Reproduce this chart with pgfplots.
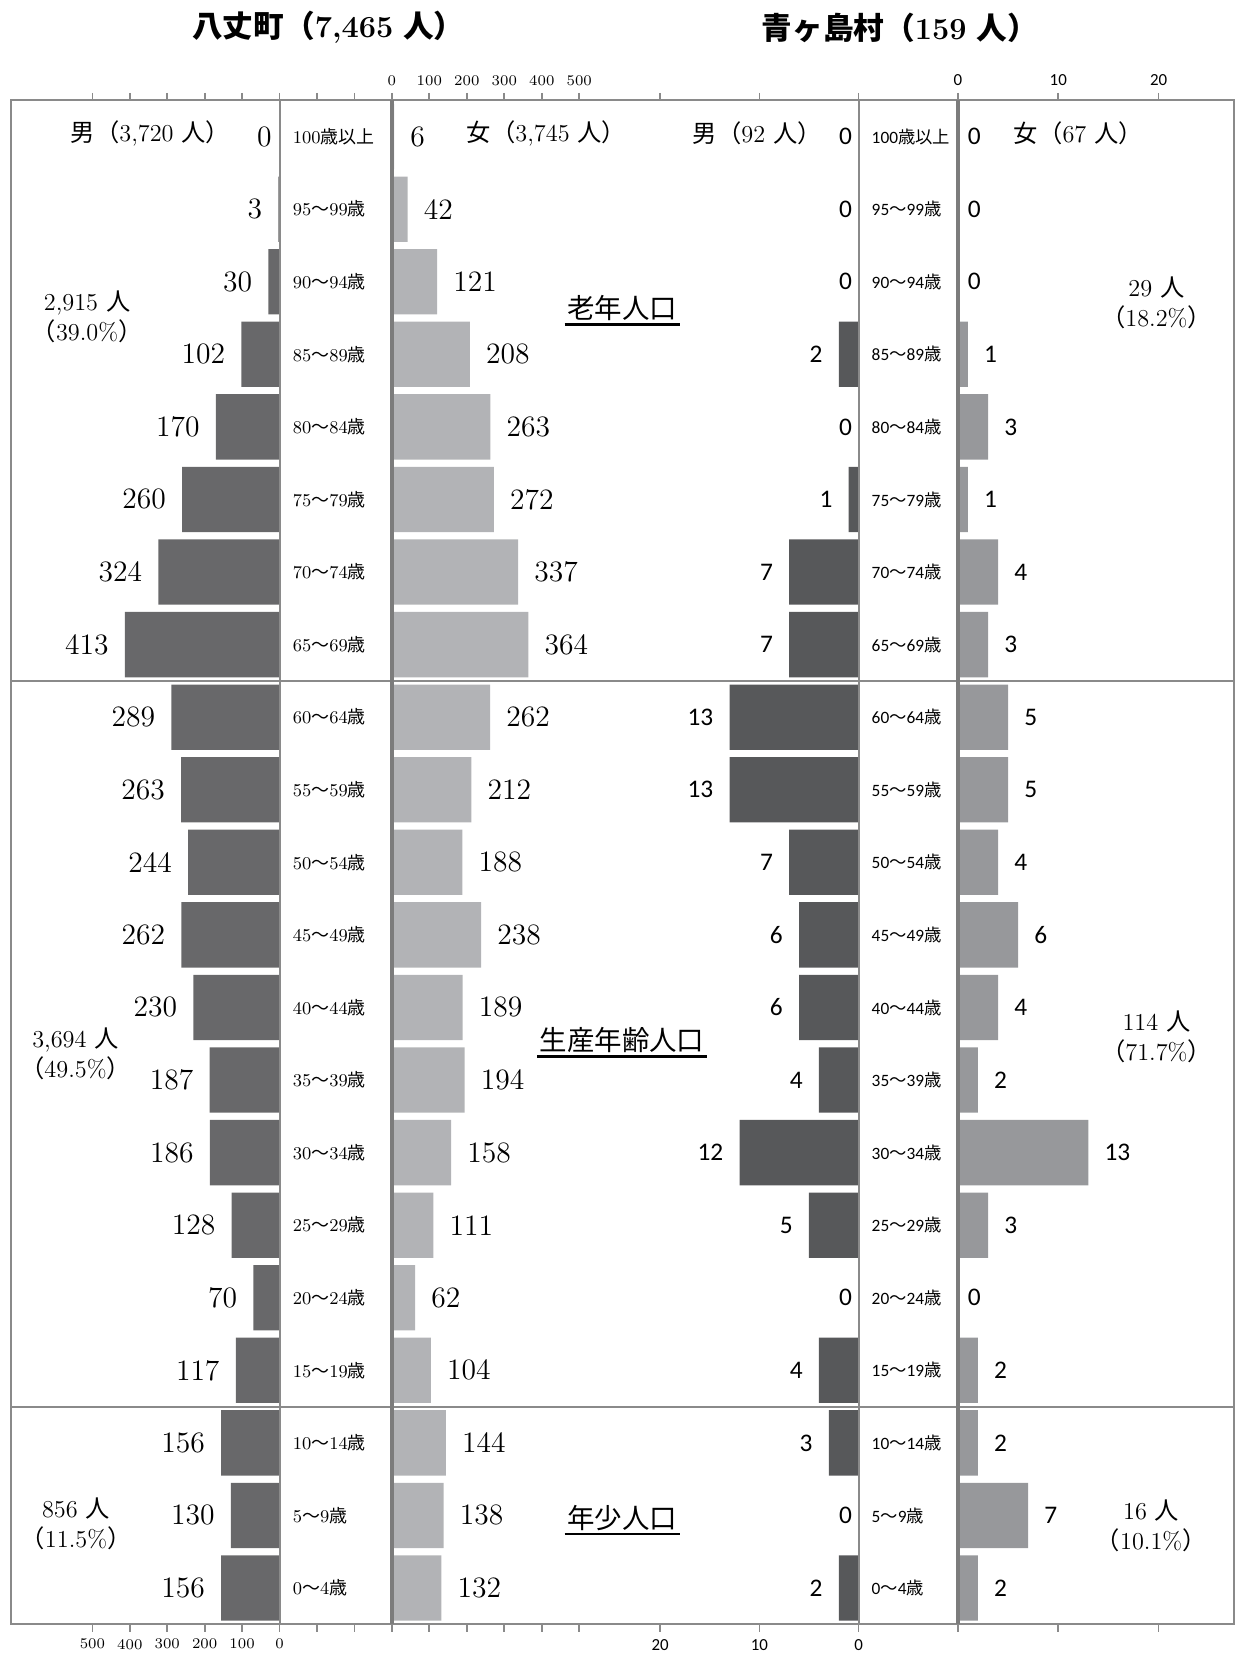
\documentclass[border=0pt]{standalone}
\usepackage{fontspec}
\usepackage{pgfplots}
\usepackage{pgfplotstable}
\pgfplotsset{compat=1.18}

\newfontfamily\jp{Noto Sans CJK JP}
\newfontfamily\calib{Carlito}

\definecolor{hmale}{HTML}{68686A}
\definecolor{hfem}{HTML}{B2B3B6}
\definecolor{amale}{HTML}{57585A}
\definecolor{afem}{HTML}{97989B}
\definecolor{frm}{HTML}{8A8A8A}

\newcommand\sai{{\jp 歳}}
\newcommand\kara{{\jp ～}}
\newcommand\nin{{\jp 人}}

% k = age group (0 = 0-4 ... 20 = 100+), hm/hf = Hachijo, am/af = Aogashima
\pgfplotstableread{
k  hm  hf  am af
0  156 132 2  2
1  130 138 0  7
2  156 144 3  2
3  117 104 4  2
4  70  62  0  0
5  128 111 5  3
6  186 158 12 13
7  187 194 4  2
8  230 189 6  4
9  262 238 6  6
10 244 188 7  4
11 263 212 13 5
12 289 262 13 5
13 413 364 7  3
14 324 337 7  4
15 260 272 1  1
16 170 263 0  3
17 102 208 2  1
18 30  121 0  0
19 3   42  0  0
20 0   6   0  0
}\pop

\pgfplotsset{
  pyr/.style={
    xbar, bar width=0.9, scale only axis, height=721.5pt,
    ymin=-0.5, ymax=20.5, enlargelimits=false,
    separate axis lines, axis line style={draw=none},
    tick align=outside, major tick length=3.5pt,
    xtick pos=both, ytick=\empty,
    tick style={draw=frm, line width=0.8pt},
    point meta=explicit symbolic, nodes near coords={\pgfplotspointmeta},
    anchor=south,
  },
}

\begin{document}
\begin{tikzpicture}

% ---- Hachijo male
\begin{axis}[pyr, at={(114.625pt,15pt)}, width=141.75pt,
  x dir=reverse, xmin=-300, xmax=500,
  xtick={-200,-100,0,100,200,300,400,500},
  xticklabels={{},{},0,100,200,300,400,500},
  xticklabel pos=left,
  xticklabel style={font=\fontsize{7}{7}\selectfont},
  every node near coord/.append style={anchor=east, inner sep=0pt,
    font=\fontsize{14}{14}\selectfont, xshift={ifthenelse(\pgfplotspointmeta==0,-3.5,-7.5)*1pt}},
]
\addplot[fill=hmale, draw=none] table[x=hm, y=k, meta=hm]{\pop};
\end{axis}

% ---- Hachijo female
\begin{axis}[pyr, at={(229.875pt,15pt)}, width=88.75pt,
  xmin=0, xmax=500,
  xtick={0,100,200,300,400,500},
  xticklabels={0,100,200,300,400,500},
  xticklabel pos=right,
  xticklabel style={font=\fontsize{7}{7}\selectfont},
  ytick={0,...,20}, ytick style={draw=none},
  yticklabels={0\kara4\sai,5\kara9\sai,10\kara14\sai,15\kara19\sai,20\kara24\sai,
    25\kara29\sai,30\kara34\sai,35\kara39\sai,40\kara44\sai,45\kara49\sai,
    50\kara54\sai,55\kara59\sai,60\kara64\sai,65\kara69\sai,70\kara74\sai,
    75\kara79\sai,80\kara84\sai,85\kara89\sai,90\kara94\sai,95\kara99\sai,
    100\sai{\jp 以上}},
  yticklabel style={anchor=west, inner sep=0pt, xshift=-43.5pt,
    font=\fontsize{8.5}{8.5}\selectfont},
  every node near coord/.append style={anchor=west, inner sep=0pt,
    font=\fontsize{14}{14}\selectfont, xshift={ifthenelse(\pgfplotspointmeta==0,3.5,7.5)*1pt}},
]
\addplot[fill=hfem, draw=none] table[x=hf, y=k, meta=hf]{\pop};
\end{axis}

% ---- Aogashima male
\begin{axis}[pyr, at={(383pt,15pt)}, width=141pt,
  x dir=reverse, xmin=-10, xmax=20,
  xtick={0,10,20}, xticklabels={0,10,20},
  xticklabel pos=left,
  xticklabel style={font=\calib\fontsize{8}{8}\selectfont},
  every node near coord/.append style={anchor=east, inner sep=0pt,
    font=\calib\fontsize{12}{12}\selectfont, xshift={ifthenelse(\pgfplotspointmeta==0,-3,-7.5)*1pt}},
]
\addplot[fill=amale, draw=none] table[x=am, y=k, meta=am]{\pop};
\end{axis}

% ---- Aogashima female
\begin{axis}[pyr, at={(501pt,15pt)}, width=95pt,
  xmin=0, xmax=20,
  xtick={0,10,20}, xticklabels={0,10,20},
  xticklabel pos=right,
  xticklabel style={font=\calib\fontsize{8}{8}\selectfont},
  ytick={0,...,20}, ytick style={draw=none},
  yticklabels={0\kara4\sai,5\kara9\sai,10\kara14\sai,15\kara19\sai,20\kara24\sai,
    25\kara29\sai,30\kara34\sai,35\kara39\sai,40\kara44\sai,45\kara49\sai,
    50\kara54\sai,55\kara59\sai,60\kara64\sai,65\kara69\sai,70\kara74\sai,
    75\kara79\sai,80\kara84\sai,85\kara89\sai,90\kara94\sai,95\kara99\sai,
    100\sai{\jp 以上}},
  yticklabel style={anchor=west, inner sep=0pt, xshift=-37.5pt,
    font=\calib\fontsize{8.2}{8.2}\selectfont},
  every node near coord/.append style={anchor=west, inner sep=0pt,
    font=\calib\fontsize{12}{12}\selectfont, xshift={ifthenelse(\pgfplotspointmeta==0,4.5,7.5)*1pt}},
]
\addplot[fill=afem, draw=none] table[x=af, y=k, meta=af]{\pop};
\end{axis}

% ---- frame
\draw[frm, line width=1pt] (5pt,15pt) rectangle (584pt,736.5pt);
\draw[frm, line width=1pt] (5pt,461.64pt) -- (584pt,461.64pt);
\draw[frm, line width=1pt] (5pt,118.07pt) -- (584pt,118.07pt);
\draw[frm, line width=1pt] (132.5pt,15pt) -- (132.5pt,736.5pt);
\draw[frm!90!black, line width=1.7pt] (185.5pt,15pt) -- (185.5pt,736.5pt);
\draw[frm, line width=1pt] (406.5pt,15pt) -- (406.5pt,736.5pt);
\draw[frm!90!black, line width=1.7pt] (453.5pt,15pt) -- (453.5pt,736.5pt);

% ---- titles
\node[font=\fontsize{14.5}{14.5}\selectfont] at (155.5pt,771pt)
  {{\jp\bfseries 八丈町（}{\bfseries 7,465} {\jp\bfseries 人）}};
\node[font=\fontsize{14.5}{14.5}\selectfont] at (426pt,771pt)
  {{\jp\bfseries 青ヶ島村（}{\bfseries 159} {\jp\bfseries 人）}};

% ---- sex headers
\node[anchor=west, font=\fontsize{11.5}{11.5}\selectfont] at (30pt,721pt) {{\jp 男（}3,720 \nin{\jp ）}};
\node[anchor=west, font=\fontsize{11.5}{11.5}\selectfont] at (217.5pt,721pt) {{\jp 女（}3,745 \nin{\jp ）}};
\node[anchor=west, font=\fontsize{11.5}{11.5}\selectfont] at (324.5pt,721pt) {{\jp 男（}92 \nin{\jp ）}};
\node[anchor=west, font=\fontsize{11.5}{11.5}\selectfont] at (476.5pt,721pt) {{\jp 女（}67 \nin{\jp ）}};

% ---- group labels
\foreach \nm/\yy/\txt in {g1/638/老年人口, g2/291.5/生産年齢人口, g3/65.5/年少人口}{
  \node[font=\jp\fontsize{13}{13}\selectfont, inner sep=1pt] (\nm) at (294.5pt,\yy pt) {\txt};
  \draw[line width=1.1pt] ([yshift=-0.5pt]\nm.south west) -- ([yshift=-0.5pt]\nm.south east);
}

% ---- totals per group
\tikzset{tot/.style={align=center, font=\fontsize{11.5}{14}\selectfont}}
\node[tot] at (41.25pt,634pt) {2,915 \nin\\{\jp （}39.0\%{\jp ）}};
\node[tot] at (35.75pt,285pt) {3,694 \nin\\{\jp （}49.5\%{\jp ）}};
\node[tot] at (36pt,62.5pt) {856 \nin\\{\jp （}11.5\%{\jp ）}};
\node[tot] at (547.5pt,640.5pt) {29 \nin\\{\jp （}18.2\%{\jp ）}};
\node[tot] at (547.5pt,293pt) {114 \nin\\{\jp （}71.7\%{\jp ）}};
\node[tot] at (545pt,61.5pt) {16 \nin\\{\jp （}10.1\%{\jp ）}};

\pgfresetboundingbox
\path[use as bounding box] (0,0) rectangle (584.5pt,784pt);
\end{tikzpicture}
\end{document}
